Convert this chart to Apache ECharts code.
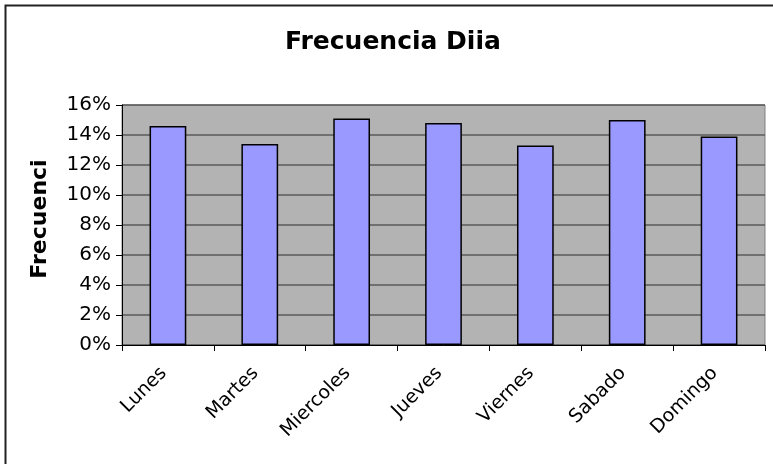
<!DOCTYPE html>
<html>
<head>
<meta charset="utf-8">
<script src="https://cdn.jsdelivr.net/npm/echarts@6/dist/echarts.min.js"></script>
<style>
  html, body { margin: 0; padding: 0; background: #fff; }
  #chart { width: 773px; height: 464px; }
</style>
</head>
<body>
<div id="chart"></div>
<script>
// datos
var dias = ["Lunes", "Martes", "Miercoles", "Jueves", "Viernes", "Sabado", "Domingo"];
var frecuencia = [0.146, 0.134, 0.151, 0.148, 0.133, 0.150, 0.139];
var titulo = "Frecuencia Diia";
var ejeY = "Frecuencia";

var chart = echarts.init(document.getElementById("chart"));
var fuente = "DejaVu Sans";

var option = {
  animation: false,
  backgroundColor: "#fff",
  textStyle: { fontFamily: fuente },
  title: {
    text: titulo,
    left: 285,
    top: 30,
    padding: 0,
    textStyle: {
      fontFamily: fuente,
      fontSize: 25,
      fontWeight: "bold",
      color: "#000"
    }
  },
  graphic: [{
    type: "rect",
    shape: { x: 5.5, y: 5.5, width: 800, height: 500 },
    style: { fill: "none", stroke: "#222", lineWidth: 2 },
    silent: true
  }],
  grid: {
    left: 122,
    right: 8,
    top: 105,
    bottom: 119,
    show: true,
    backgroundColor: "#b3b3b3",
    borderColor: "#808080",
    borderWidth: 1
  },
  xAxis: {
    type: "category",
    data: dias,
    boundaryGap: true,
    axisLine: { lineStyle: { color: "#000", width: 1 } },
    axisTick: { show: true, length: 6, lineStyle: { color: "#000" } },
    axisLabel: {
      rotate: 45,
      margin: 21,
      padding: [0, 6, 0, 0],
      color: "#000",
      fontFamily: fuente,
      fontSize: 19
    }
  },
  yAxis: {
    type: "value",
    min: 0,
    max: 0.16,
    interval: 0.02,
    name: ejeY,
    nameLocation: "middle",
    nameGap: 71,
    nameTruncate: { maxWidth: 128, ellipsis: "" },
    nameTextStyle: {
      fontFamily: fuente,
      fontSize: 22,
      fontWeight: "bold",
      color: "#000",
      padding: [0, 0, 0, 12]
    },
    axisLine: { show: true, lineStyle: { color: "#000", width: 1 } },
    axisTick: { show: true, length: 6, lineStyle: { color: "#000" } },
    axisLabel: {
      margin: 11,
      color: "#000",
      fontFamily: fuente,
      fontSize: 20,
      formatter: function (v) { return Math.round(v * 100) + "%"; }
    },
    splitLine: { show: true, lineStyle: { color: "#5a5a5a", width: 1.5 } }
  },
  series: [{
    type: "bar",
    data: frecuencia,
    barWidth: "40%",
    itemStyle: { color: "#9999ff", borderColor: "#000", borderWidth: 1.5 }
  }]
};

chart.setOption(option);
</script>
</body>
</html>
